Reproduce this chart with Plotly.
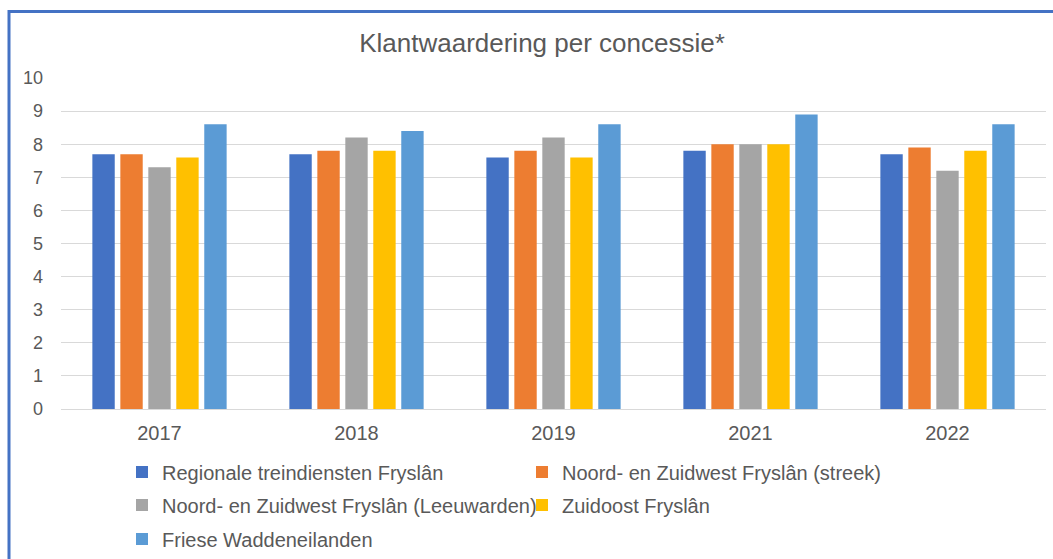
import plotly.graph_objects as go

years = ["2017", "2018", "2019", "2021", "2022"]
series_names = [
    "Regionale treindiensten Fryslân",
    "Noord- en Zuidwest Fryslân (streek)",
    "Noord- en Zuidwest Fryslân (Leeuwarden)",
    "Zuidoost Fryslân",
    "Friese Waddeneilanden",
]
treindiensten = [7.7, 7.7, 7.6, 7.8, 7.7]
nzw_streek = [7.7, 7.8, 7.8, 8.0, 7.9]
nzw_leeuwarden = [7.3, 8.2, 8.2, 8.0, 7.2]
zuidoost = [7.6, 7.8, 7.6, 8.0, 7.8]
wadden = [8.6, 8.4, 8.6, 8.9, 8.6]
colors = ["#4472C4", "#ED7D31", "#A5A5A5", "#FFC000", "#5B9BD5"]
y_ticks = list(range(0, 11))

series_values = [treindiensten, nzw_streek, nzw_leeuwarden, zuidoost, wadden]
legend_ids = ["legend", "legend", "legend2", "legend2", "legend3"]

FONT = "Liberation Sans, Arial, sans-serif"
TXT = "#595959"

fig = go.Figure()
for name, vals, col, lg in zip(series_names, series_values, colors, legend_ids):
    fig.add_trace(go.Bar(x=years, y=vals, name=name, legend=lg,
                         marker=dict(color=col, line=dict(width=0))))

W, H = 1053, 559
ml, mr, mt, mb = 61, 7, 78, 150
pw, ph = W - ml - mr, H - mt - mb

def px_x(x):
    return (x - ml) / pw

def px_y(y):
    return (H - mb - y) / ph

def legend_row(ycenter):
    return dict(orientation="h", x=px_x(122), xanchor="left",
                yref="container", y=1 - ycenter / H, yanchor="middle",
                entrywidth=355, entrywidthmode="pixels", font=dict(size=20, color=TXT, family=FONT),
                bgcolor="rgba(0,0,0,0)", borderwidth=0)

fig.update_layout(
    width=W, height=H,
    margin=dict(l=ml, r=mr, t=mt, b=mb, pad=0, autoexpand=False),
    paper_bgcolor="white", plot_bgcolor="white",
    font=dict(family=FONT, color=TXT, size=18),
    barmode="group", bargap=0.29, bargroupgap=0.2,
    title=dict(text="Klantwaardering per concessie*", x=px_x(542), xref="paper",
               xanchor="center", y=1 - 43 / H, yanchor="middle",
               font=dict(size=26, color=TXT, family=FONT)),
    xaxis=dict(showgrid=False, showline=False, ticks="", tickfont=dict(size=20, color=TXT),
               ticklabelstandoff=10),
    yaxis=dict(range=[0, 10], tickvals=y_ticks, showgrid=True, gridcolor="#D9D9D9", gridwidth=1,
               zeroline=True, zerolinecolor="#D9D9D9", zerolinewidth=1, showline=False,
               ticks="", tickfont=dict(size=18, color=TXT), ticklabelstandoff=17),
    legend=legend_row(472),
    legend2=legend_row(505),
    legend3=legend_row(539),
    showlegend=True,
)

fig.add_shape(type="rect", xref="paper", yref="paper",
              x0=px_x(9), x1=px_x(1070), y0=px_y(580), y1=px_y(11.5),
              line=dict(color="#4472C4", width=3), fillcolor="rgba(0,0,0,0)", layer="above")

fig.write_html("out.html", config={"displayModeBar": False},
               post_script="document.body.style.margin='0px';")
